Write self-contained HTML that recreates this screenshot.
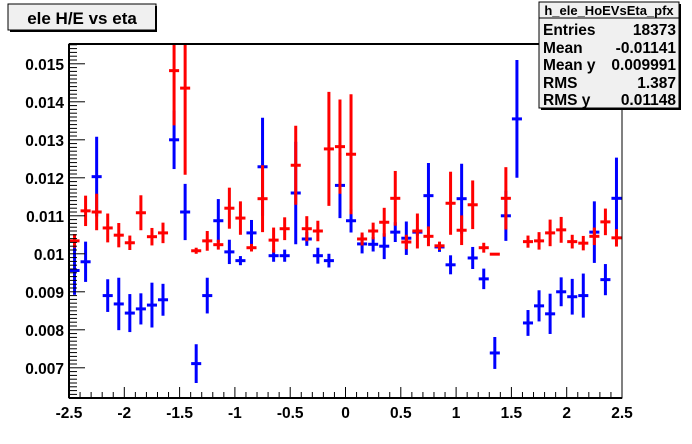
<!DOCTYPE html>
<html><head><meta charset="utf-8"><style>
body{margin:0;background:#fff;width:692px;height:444px;overflow:hidden;font-family:"Liberation Sans",sans-serif;}
</style></head><body>
<svg id="chart" width="692" height="444" xmlns="http://www.w3.org/2000/svg" style="position:absolute;left:0;top:0">
<rect x="0" y="0" width="692" height="444" fill="#fff"/>
<g id="marks"></g>
<g id="axes"></g>
<g>
<rect x="8" y="4" width="148" height="26" fill="#f0f0f0" stroke="#000" stroke-width="1"/>
<rect x="10" y="30" width="147" height="2" fill="#000"/><rect x="155" y="6" width="2" height="26" fill="#000"/>
<text x="82" y="24" text-anchor="middle" font-size="17" font-weight="bold">ele H/E vs eta</text>
</g>
<g>
<rect x="539" y="2" width="140" height="106" fill="#f0f0f0" stroke="#000" stroke-width="1"/>
<rect x="541" y="108" width="140" height="2" fill="#000"/><rect x="679" y="4" width="2" height="106" fill="#000"/>
<line x1="539" y1="18" x2="679" y2="18" stroke="#000"/>
<text x="609" y="15" text-anchor="middle" font-size="13" font-weight="bold">h_ele_HoEVsEta_pfx</text>
<g font-size="15.5" font-weight="bold">
<text x="543" y="35">Entries</text><text x="676" y="35" text-anchor="end">18373</text>
<text x="543" y="53">Mean</text><text x="676" y="53" text-anchor="end">-0.01141</text>
<text x="543" y="70">Mean y</text><text x="676" y="70" text-anchor="end">0.009991</text>
<text x="543" y="88">RMS</text><text x="676" y="88" text-anchor="end">1.387</text>
<text x="543" y="105">RMS y</text><text x="676" y="105" text-anchor="end">0.01148</text>
</g></g>
</svg>
<script>
const binCenters=[-2.45,-2.35,-2.25,-2.15,-2.05,-1.95,-1.85,-1.75,-1.65,-1.55,-1.45,-1.35,-1.25,-1.15,-1.05,-0.95,-0.85,-0.75,-0.65,-0.55,-0.45,-0.35,-0.25,-0.15,-0.05,0.05,0.15,0.25,0.35,0.45,0.55,0.65,0.75,0.85,0.95,1.05,1.15,1.25,1.35,1.45,1.55,1.65,1.75,1.85,1.95,2.05,2.15,2.25,2.35,2.45];
const redValues=[0.01034,0.01113,0.0111,0.01068,0.01049,0.01029,0.01108,0.01045,0.01055,0.01482,0.01436,0.01008,0.01034,0.01024,0.0112,0.01094,0.01016,0.01145,0.01036,0.01066,0.01233,0.01066,0.0106,0.01276,0.01282,0.01262,0.01039,0.0106,0.01083,0.01146,0.01031,0.0106,0.01046,0.01021,0.01133,0.01062,0.01129,0.01016,0.00999,0.01146,null,0.01032,0.01034,0.01055,0.01063,0.01032,0.01028,0.01046,0.01084,0.01042];
const redErrors=[0.00018,0.0004,0.00048,0.00038,0.00032,0.00019,0.00046,0.00023,0.00027,0.00144,0.00228,0.00008,0.00026,0.00013,0.00054,0.00044,0.0001,0.00088,0.00033,0.0003,0.00104,0.00033,0.00027,0.0015,0.00124,0.00158,0.00017,0.00022,0.00038,0.00072,0.00019,0.00046,0.00026,0.00011,0.00083,0.00039,0.00064,0.00013,0.00002,0.00082,0,0.00016,0.00023,0.00035,0.00034,0.00018,0.00019,0.00023,0.00035,0.00023];
const blueValues=[0.00956,0.00979,0.01203,0.0089,0.00868,0.00844,0.00855,0.00865,0.00879,0.013,0.0111,0.00711,0.0089,0.01087,0.01005,0.00982,0.01055,0.01229,0.00995,0.00995,0.0116,0.01039,0.00995,0.00982,0.0118,0.01087,0.01026,0.01025,0.0102,0.01057,0.01041,0.01057,0.01153,0.01018,0.00971,0.01145,0.00989,0.00934,0.00739,0.011,0.01355,0.00818,0.00863,0.00842,0.009,0.00887,0.0089,0.01057,0.00932,0.01146];
const blueErrors=[0.00064,0.00053,0.00105,0.00043,0.00069,0.0005,0.00041,0.00059,0.00042,0.00077,0.00074,0.00051,0.00047,0.00057,0.00032,0.00012,0.00034,0.00129,0.00016,0.00016,0.00135,0.00018,0.00021,0.00018,0.00086,0.00031,0.00025,0.00019,0.00034,0.00026,0.00044,0.00009,0.00086,0.00013,0.00025,0.00092,0.00029,0.00027,0.00042,0.00066,0.00155,0.00034,0.00041,0.00053,0.00038,0.00047,0.00058,0.00081,0.00041,0.00107];
const xTicks=[-2.5,-2,-1.5,-1,-0.5,0,0.5,1,1.5,2,2.5];
const xTickLabels=["-2.5","-2","-1.5","-1","-0.5","0","0.5","1","1.5","2","2.5"];
const yTicks=[0.007,0.008,0.009,0.01,0.011,0.012,0.013,0.014,0.015];
const yTickLabels=["0.007","0.008","0.009","0.01","0.011","0.012","0.013","0.014","0.015"];

const L=69,R=622,T=44,B=398,XMIN=-2.5,XMAX=2.5,YMIN=0.006205,YMAX=0.015521;
const binW=0.1;
function xs(v){return L+(v-XMIN)/(XMAX-XMIN)*(R-L);}
function ys(v){return B-(v-YMIN)/(YMAX-YMIN)*(B-T);}
const NS="http://www.w3.org/2000/svg";
function mk(p,tag,a){const e=document.createElementNS(NS,tag);for(const k in a)e.setAttribute(k,a[k]);p.appendChild(e);return e;}
const marks=document.getElementById('marks');
const axes=document.getElementById('axes');
const cp=mk(marks,'clipPath',{id:'clip'});
mk(cp,'rect',{x:L,y:T,width:R-L,height:B-T});
function series(vals,errs,color,name){
  const g=mk(marks,'g',{'clip-path':'url(#clip)'});
  
  
  vals.forEach((v,i)=>{
    if(v===null)return;
    const cx=xs(binCenters[i]),cy=ys(v);
    const pg=mk(g,'g',{});
    
    
    mk(pg,'line',{x1:cx,x2:cx,y1:ys(v+errs[i]),y2:ys(v-errs[i]),stroke:color,'stroke-width':3});
    mk(pg,'line',{x1:xs(binCenters[i]-binW/2)+0.5,x2:xs(binCenters[i]+binW/2)-0.5,y1:cy,y2:cy,stroke:color,'stroke-width':3});
  });
}
series(blueValues,blueErrors,'#0000ff','blue');
series(redValues,redErrors,'#ff0000','red');
const fr=mk(axes,'rect',{x:L,y:T,width:R-L,height:B-T,fill:'none',stroke:'#000','stroke-width':1});


mk(axes,'line',{x1:L,x2:R,y1:T,y2:T,stroke:'#000','stroke-width':2});
mk(axes,'line',{x1:L,x2:R,y1:B,y2:B,stroke:'#000','stroke-width':2});
mk(axes,'line',{x1:L,x2:L,y1:T,y2:B,stroke:'#000','stroke-width':2});
for(let k=0;k<=50;k++){
  const v=XMIN+k*0.1;const x=xs(v);const major=(k%5===0);
  mk(axes,'line',{x1:x,x2:x,y1:B,y2:B-(major?11:6),stroke:'#000','stroke-width':1});
}
xTicks.forEach((v,i)=>{
  const t=mk(axes,'text',{x:xs(v),y:B+20,'text-anchor':'middle','font-size':15.5,'font-weight':'bold'});
  t.textContent=xTickLabels[i];
  
  
});
for(let k=62;k<=155;k++){
  const v=k*0.0001;const y=ys(v);if(y<T||y>B)continue;const major=(k%10===0);
  mk(axes,'line',{x1:L,x2:L+(major?16:8),y1:y,y2:y,stroke:'#000','stroke-width':1});
}
yTicks.forEach((v,i)=>{
  const t=mk(axes,'text',{x:L-5,y:ys(v)+6,'text-anchor':'end','font-size':15.5,'font-weight':'bold'});
  t.textContent=yTickLabels[i];
  
  
});
</script>
</body></html>
